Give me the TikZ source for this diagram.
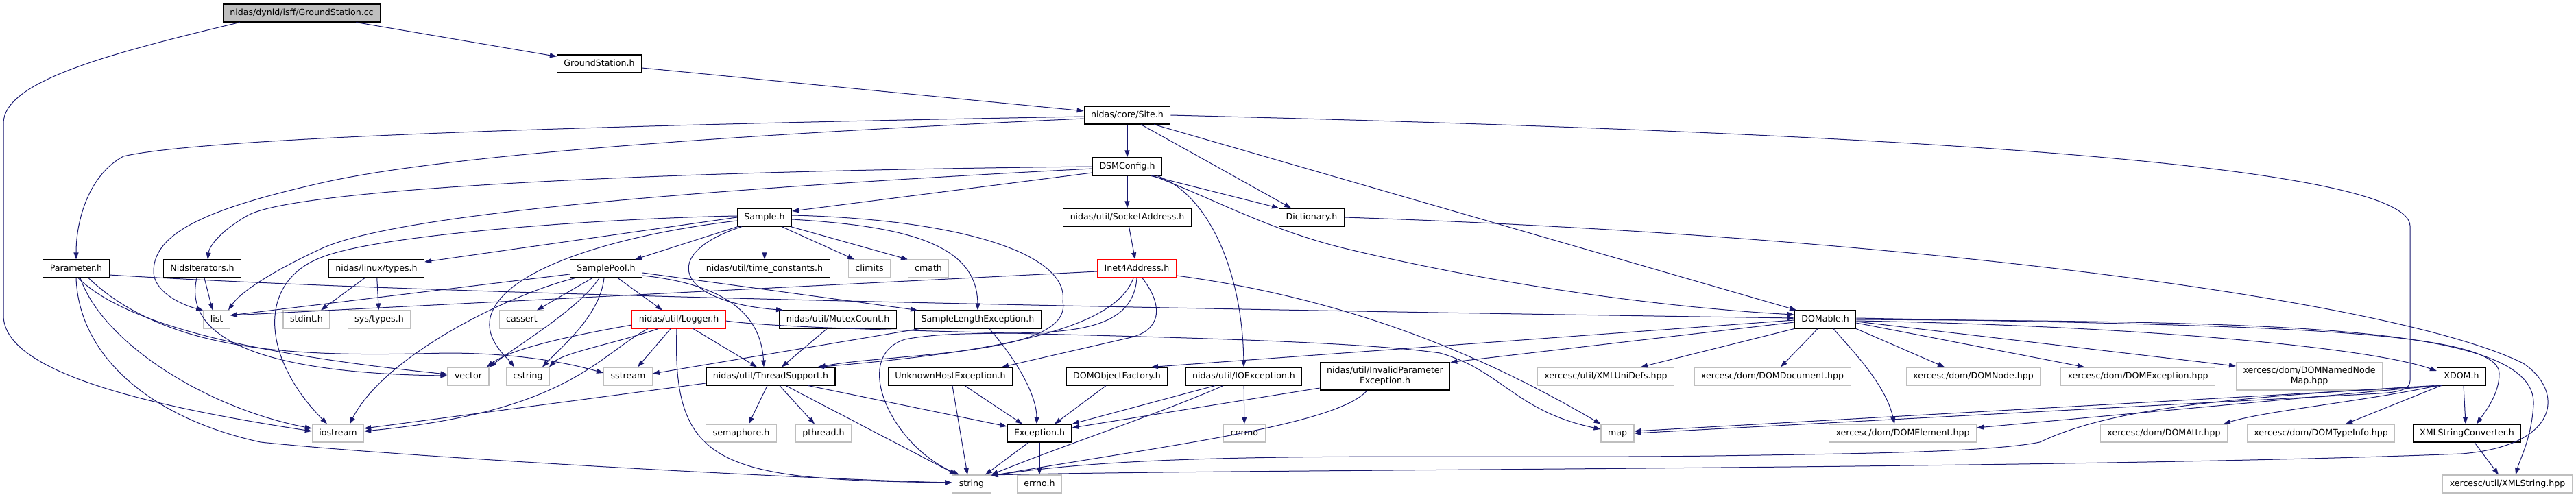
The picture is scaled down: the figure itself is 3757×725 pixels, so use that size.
\documentclass[tikz,border=0pt]{standalone}
\usepackage{fontspec}
\setmainfont{DejaVu Sans}
\usetikzlibrary{arrows.meta}

\definecolor{edgeblue}{HTML}{191970}
\definecolor{sysgrey}{HTML}{BFBFBF}
\definecolor{rootgrey}{HTML}{BFBFBF}
\definecolor{cutred}{HTML}{FF0000}

\tikzset{
  boxbase/.style={draw=black, fill=white, line width=1.1pt, inner xsep=10pt,
    inner ysep=0pt, minimum height=26pt, align=center,
    font=\fontsize{12.6pt}{15pt}\selectfont},
  filebox/.style={boxbase, text height=9.5pt, text depth=3pt},
  twoline/.style={boxbase, minimum height=40pt},
  sysbox/.style={filebox, draw=sysgrey},
  rootbox/.style={filebox, fill=rootgrey},
  cutbox/.style={filebox, draw=cutred},
  dep/.style={draw=edgeblue, line width=1pt, -{Triangle[length=10pt,width=7pt]}}
}

\begin{document}
\begin{tikzpicture}[x=1pt, y=-1pt]
    \useasboundingbox (0,0) rectangle (3757,725);

    % Vertices
    % top of the graph
    \node[rootbox] (root) at (440,19) {nidas/dynld/isff/GroundStation.cc};
    \node[filebox] (gsh) at (874,93) {GroundStation.h};
    \node[filebox] (site) at (1644,168) {nidas/core/Site.h};
    \node[filebox] (dsm) at (1644,243) {DSMConfig.h};
    \node[filebox] (sample) at (1115,317) {Sample.h};
    \node[filebox] (sock) at (1644,317) {nidas/util/SocketAddress.h};
    \node[filebox] (dict) at (1913,317) {Dictionary.h};

    % row 6
    \node[filebox] (param) at (111,392) {Parameter.h};
    \node[filebox] (nidsit) at (295,392) {NidsIterators.h};
    \node[filebox] (ltypes) at (549,392) {nidas/linux/types.h};
    \node[filebox] (spool) at (884,392) {SamplePool.h};
    \node[filebox] (timec) at (1115,392) {nidas/util/time\_constants.h};
    \node[sysbox] (climits) at (1268,392) {climits};
    \node[sysbox] (cmath) at (1354,392) {cmath};
    \node[cutbox] (inet) at (1658,392) {Inet4Address.h};

    % row 7
    \node[sysbox] (list) at (316,466) {list};
    \node[sysbox] (stdint) at (447,466) {stdint.h};
    \node[sysbox] (systypes) at (553,466) {sys/types.h};
    \node[sysbox] (cassert) at (761,466) {cassert};
    \node[cutbox] (logger) at (990,466) {nidas/util/Logger.h};
    \node[filebox] (mutex) at (1222,466) {nidas/util/MutexCount.h};
    \node[filebox] (slen) at (1426,466) {SampleLengthException.h};
    \node[filebox] (domable) at (2662,466) {DOMable.h};

    % row 8
    \node[sysbox] (vector) at (683,549) {vector};
    \node[sysbox] (cstring) at (770,549) {cstring};
    \node[sysbox] (sstream) at (916,549) {sstream};
    \node[filebox] (thread) at (1124,549) {nidas/util/ThreadSupport.h};
    \node[filebox] (unknown) at (1386,549) {UnknownHostException.h};
    \node[filebox] (domfac) at (1629,549) {DOMObjectFactory.h};
    \node[filebox] (ioexc) at (1814,549) {nidas/util/IOException.h};
    \node[twoline] (invparam) at (2020,549) {nidas/util/InvalidParameter\\Exception.h};
    \node[sysbox] (unidefs) at (2342,549) {xercesc/util/XMLUniDefs.hpp};
    \node[sysbox] (domdoc) at (2585,549) {xercesc/dom/DOMDocument.hpp};
    \node[sysbox] (domnode) at (2878,549) {xercesc/dom/DOMNode.hpp};
    \node[sysbox] (domexc) at (3118,549) {xercesc/dom/DOMException.hpp};
    \node[twoline, draw=sysgrey] (domnnm) at (3368,549) {xercesc/dom/DOMNamedNode\\Map.hpp};
    \node[filebox] (xdom) at (3590,549) {XDOM.h};

    % row 9
    \node[sysbox] (iostream) at (493,632) {iostream};
    \node[sysbox] (semaphore) at (1081,632) {semaphore.h};
    \node[sysbox] (pthread) at (1201,632) {pthread.h};
    \node[filebox] (exc) at (1516,632) {Exception.h};
    \node[sysbox] (cerrno) at (1815,632) {cerrno};
    \node[sysbox] (map) at (2359,632) {map};
    \node[sysbox] (domelem) at (2775,632) {xercesc/dom/DOMElement.hpp};
    \node[sysbox] (domattr) at (3156,632) {xercesc/dom/DOMAttr.hpp};
    \node[sysbox] (domti) at (3385,632) {xercesc/dom/DOMTypeInfo.hpp};
    \node[filebox] (xmlsc) at (3598,632) {XMLStringConverter.h};

    % bottom row
    \node[sysbox] (string) at (1417,706) {string};
    \node[sysbox] (errno) at (1516,706) {errno.h};
    \node[sysbox] (xmlstr) at (3657,706) {xercesc/util/XMLString.hpp};

    % Edges
    % GroundStation
    \draw[dep] (root) -- (gsh);
    \draw[dep] ([xshift=-90pt]root.south) .. controls (150,80) and (5,120) .. (5,180) -- (5,460)
        .. controls (5,540) and (200,590) .. ([yshift=3pt]iostream.west);
    \draw[dep] (gsh) -- (site);

    % Site.h
    \draw[dep] (site) -- (dsm);
    \draw[dep] ([xshift=20pt]site.south) -- ([xshift=-30pt]dict.north);
    \draw[dep] ([xshift=39pt]site.south) -- ([xshift=-42pt]domable.north);
    \draw[dep] ([yshift=-2pt]site.west) .. controls (900,182) and (300,200) .. (180,228)
        .. controls (130,255) and (111,320) .. (param.north);
    \draw[dep] ([yshift=-5pt]site.west) .. controls (1100,195) and (650,225) .. (468,267)
        .. controls (300,305) and (225,340) .. (224,395)
        .. controls (223,425) and (265,445) .. (list.north west);
    \draw[dep] (site.east) .. controls (2600,190) and (3515,230) .. (3515,330) -- (3515,555)
        .. controls (3515,568) and (3500,572) .. (3470,574) -- (map.east);

    % DSMConfig.h
    \draw[dep] ([yshift=-9pt]dsm.west) -- ([yshift=9pt]sample.east);
    \draw[dep] (dsm) -- (sock);
    \draw[dep] ([xshift=35pt]dsm.south) -- (dict.north west);
    \draw[dep] ([xshift=38pt]dsm.south) .. controls (1770,290) and (1850,335) .. (1960,362)
        .. controls (2200,420) and (2450,450) .. ([yshift=7pt]domable.west);
    \draw[dep] ([xshift=44pt]dsm.south) .. controls (1765,285) and (1812,400) .. (ioexc.north);
    \draw[dep] (dsm.west) .. controls (900,250) and (420,278) .. (360,315)
        .. controls (320,338) and (305,360) .. ([xshift=8pt]nidsit.north);
    \draw[dep] ([yshift=-3pt]dsm.west) .. controls (900,282) and (560,320) .. (468,363)
        .. controls (420,385) and (355,420) .. ([xshift=17pt]list.north);

    % Sample.h
    \draw[dep] (sample.west) -- ([yshift=10pt]ltypes.east);
    \draw[dep] ([yshift=2pt]sample.west) .. controls (900,318) and (560,340) .. (470,375)
        .. controls (375,410) and (380,520) .. ([xshift=-16pt]iostream.north);
    \draw[dep] ([yshift=-5pt]sample.west) .. controls (880,345) and (720,400) .. (714,470)
        .. controls (712,500) and (740,522) .. ([xshift=-20pt]cstring.north);
    \draw[dep] ([xshift=-39pt]sample.south) -- ([xshift=42pt]spool.north);
    \draw[dep] (sample) -- (timec);
    \draw[dep] ([xshift=-33pt]sample.south) .. controls (960,370) and (985,440) .. ([xshift=-80pt]mutex.north);
    \draw[dep] ([xshift=25pt]sample.south) -- ([xshift=-22pt]climits.north);
    \draw[dep] ([xshift=38pt]sample.south) -- ([xshift=-30pt]cmath.north);
    \draw[dep] ([yshift=-3pt]sample.east) .. controls (1320,330) and (1425,355) .. (slen.north);
    \draw[dep] ([yshift=3pt]sample.east) .. controls (1400,320) and (1560,370) .. (1550,440)
        .. controls (1565,520) and (1300,515) .. ([xshift=70pt]thread.north);

    % SamplePool.h
    \draw[dep] ([yshift=-8pt]spool.west) -- ([yshift=6pt]list.east);
    \draw[dep] ([xshift=-45pt]spool.south) .. controls (740,430) and (560,520) .. ([xshift=17pt]iostream.north);
    \draw[dep] ([xshift=-20pt]spool.south) -- ([xshift=22pt]cassert.north);
    \draw[dep] ([xshift=-10pt]spool.south) .. controls (845,450) and (760,500) .. ([xshift=31pt]vector.north);
    \draw[dep] ([xshift=-3pt]spool.south) .. controls (875,460) and (820,505) .. ([xshift=21pt]cstring.north);
    \draw[dep] ([xshift=17pt]spool.south) -- ([xshift=-24pt]logger.north);
    \draw[dep] ([yshift=-6pt]spool.east) -- ([xshift=-88pt]slen.north);
    \draw[dep] ([yshift=-10pt]spool.east) .. controls (1060,415) and (1110,460) .. ([xshift=-10pt]thread.north);

    % Logger.h
    \draw[dep] ([yshift=-8pt]logger.west) .. controls (860,485) and (750,505) .. ([xshift=27pt]vector.north);
    \draw[dep] ([xshift=-30pt]logger.south) .. controls (900,500) and (820,515) .. ([xshift=31pt]cstring.north);
    \draw[dep] ([xshift=-45pt]logger.south) .. controls (870,520) and (830,600) .. ([yshift=3pt]iostream.east);
    \draw[dep] ([xshift=-12pt]logger.south) -- ([xshift=14pt]sstream.north);
    \draw[dep] ([xshift=21pt]logger.south) -- ([xshift=-20pt]thread.north);
    \draw[dep] ([xshift=-3pt]logger.south) .. controls (980,680) and (1050,700) .. ([yshift=2pt]string.west);
    \draw[dep] ([yshift=-2pt]logger.east) .. controls (1200,488) and (1900,486) .. (2100,515)
        .. controls (2190,540) and (2210,600) .. ([yshift=6pt]map.west);

    % Inet4Address.h
    \draw[dep] (sock) -- (inet);
    \draw[dep] ([yshift=-4pt]inet.west) -- ([yshift=6pt]list.east);
    \draw[dep] ([xshift=-5pt]inet.south) .. controls (1630,470) and (1500,510) .. ([xshift=68pt]thread.north);
    \draw[dep] (inet.south) .. controls (1650,520) and (1450,470) .. (1320,495)
        .. controls (1240,520) and (1300,650) .. ([xshift=-18pt]string.north);
    \draw[dep] ([xshift=8pt]inet.south) .. controls (1700,450) and (1690,482) .. (1650,492)
        -- ([xshift=75pt]unknown.north);
    \draw[dep] ([yshift=-10pt]inet.east) .. controls (2000,440) and (2200,540) .. (map.north west);

    % Parameter.h
    \draw[dep] (param.south) .. controls (115,520) and (220,610) .. (380,645)
        .. controls (600,668) and (1200,700) .. ([yshift=2pt]string.west);
    \draw[dep] ([xshift=6pt]param.south) .. controls (150,500) and (300,595) .. ([yshift=7pt]iostream.west);
    \draw[dep] ([xshift=3pt]param.south) .. controls (180,470) and (350,515) .. ([yshift=3pt]vector.west);
    \draw[dep] ([xshift=18pt]param.south) .. controls (250,520) and (450,520) .. (650,515)
        .. controls (760,515) and (830,530) .. ([yshift=5pt]sstream.west);
    \draw[dep] ([yshift=-9pt]param.east) .. controls (600,428) and (1500,448) .. ([yshift=2pt]domable.west);

    % NidsIterators.h and linux/types.h
    \draw[dep] ([xshift=3pt]nidsit.south) -- ([xshift=-6pt]list.north);
    \draw[dep] ([xshift=-8pt]nidsit.south) .. controls (265,500) and (400,545) .. ([yshift=1pt]vector.west);
    \draw[dep] ([xshift=-17pt]ltypes.south) -- ([xshift=21pt]stdint.north);
    \draw[dep] (ltypes) -- (systypes);

    % ThreadSupport.h and MutexCount.h
    \draw[dep] ([xshift=55pt]thread.south) -- ([yshift=10pt]exc.west);
    \draw[dep] ([xshift=22pt]thread.south) -- ([xshift=-22pt]string.north);
    \draw[dep] ([xshift=-5pt]thread.south) -- ([xshift=11pt]semaphore.north);
    \draw[dep] ([xshift=13pt]thread.south) -- ([xshift=-13pt]pthread.north);
    \draw[dep] ([yshift=-10pt]thread.west) -- ([yshift=7pt]iostream.east);
    \draw[dep] ([xshift=-16pt]mutex.south) -- ([xshift=16pt]thread.north);

    % exceptions
    \draw[dep] ([xshift=17pt]slen.south) .. controls (1495,540) and (1512,585) .. ([xshift=-4pt]exc.north);
    \draw[dep] ([xshift=-85pt]slen.south) -- ([yshift=4pt]sstream.east);
    \draw[dep] ([xshift=21pt]unknown.south) -- ([xshift=-25pt]exc.north);
    \draw[dep] ([xshift=3pt]unknown.south) -- ([xshift=-6pt]string.north);
    \draw[dep] ([xshift=-16pt]domfac.south) -- ([xshift=22pt]exc.north);
    \draw[dep] ([xshift=-42pt]ioexc.south) -- (exc.north east);
    \draw[dep] ([xshift=-30pt]ioexc.south) .. controls (1700,600) and (1550,650) .. (string.north east);
    \draw[dep] (ioexc) -- (cerrno);
    \draw[dep] ([yshift=-17pt]invparam.west) -- ([yshift=8pt]exc.east);
    \draw[dep] ([xshift=-26pt]invparam.south) .. controls (1950,620) and (1700,650) .. ([yshift=12pt]string.east);
    \draw[dep] ([xshift=-16pt]exc.south) -- ([xshift=20pt]string.north);
    \draw[dep] (exc) -- (errno);

    % Dictionary.h
    \draw[dep] (dict.east) .. controls (2800,345) and (3500,440) .. (3680,530)
        .. controls (3740,570) and (3735,650) .. (3590,662)
        .. controls (3000,685) and (1800,684) .. ([yshift=13pt]string.east);

    % DOMable.h
    \draw[dep] (domable.east) .. controls (3300,470) and (3700,470) .. (3695,590)
        .. controls (3692,640) and (3675,670) .. ([xshift=12pt]xmlstr.north);
    \draw[dep] ([yshift=2pt]domable.east) .. controls (3300,475) and (3645,480) .. (3645,545)
        .. controls (3645,575) and (3625,600) .. ([xshift=14pt]xmlsc.north);
    \draw[dep] ([yshift=-2pt]domable.east) .. controls (3100,475) and (3450,505) .. ([yshift=8pt]xdom.west);
    \draw[dep] ([yshift=-3pt]domable.east) -- ([yshift=15pt]domnnm.west);
    \draw[dep] ([yshift=-5pt]domable.east) -- ([xshift=-78pt]domexc.north);
    \draw[dep] (domable.south east) -- ([xshift=-42pt]domnode.north);
    \draw[dep] ([xshift=12pt]domable.south) .. controls (2700,510) and (2750,560) .. ([xshift=-12pt]domelem.north);
    \draw[dep] ([xshift=-11pt]domable.south) -- ([xshift=12pt]domdoc.north);
    \draw[dep] (domable.south west) -- ([xshift=51pt]unidefs.north);
    \draw[dep] ([yshift=-4pt]domable.west) -- (invparam.north east);
    \draw[dep] ([yshift=-1pt]domable.west) -- ([xshift=50pt]domfac.north);

    % XDOM.h
    \draw[dep] ([xshift=-35pt]xdom.south) -- ([yshift=8pt]domelem.east);
    \draw[dep] ([xshift=-35pt]xdom.south) .. controls (3450,585) and (3300,600) .. ([xshift=87pt]domattr.north);
    \draw[dep] ([xshift=-30pt]xdom.south) -- ([xshift=36pt]domti.north);
    \draw[dep] ([xshift=3pt]xdom.south) -- ([xshift=-2pt]xmlsc.north);
    \draw[dep] ([xshift=-28pt]xdom.south) -- ([yshift=3pt]map.east);
    \draw[dep] ([xshift=-40pt]xdom.south) .. controls (3250,580) and (3080,595) .. (2975,645)
        .. controls (2900,660) and (2700,662) .. (2500,665)
        .. controls (2100,670) and (1700,655) .. ([yshift=12pt]string.east);
    \draw[dep] ([xshift=11pt]xmlsc.south) -- ([xshift=-13pt]xmlstr.north);

\end{tikzpicture}
\end{document}
